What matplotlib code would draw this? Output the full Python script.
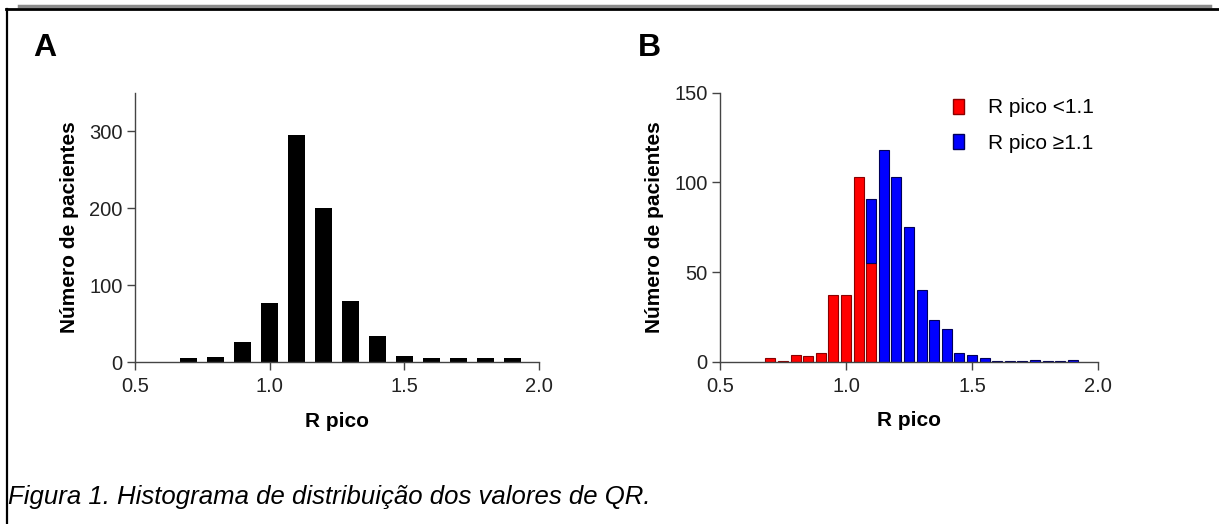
import matplotlib
matplotlib.use("Agg")
import matplotlib.pyplot as plt
from matplotlib.lines import Line2D
from matplotlib.patches import Patch

plt.rcParams['font.family'] = ['Liberation Sans', 'DejaVu Sans']

# -------------------------------
# Data
# -------------------------------

# Panel A: bins of 0.1
a_centers = [0.7, 0.8, 0.9, 1.0, 1.1, 1.2, 1.3, 1.4, 1.5, 1.6, 1.7, 1.8, 1.9]
a_counts = [5, 7, 26, 77, 295, 201, 79, 34, 8, 5, 5, 5, 5]

# Panel B: bins of 0.05, split at R pico 1.1
b_red_centers = [0.70, 0.75, 0.80, 0.85, 0.90, 0.95, 1.00, 1.05, 1.10]
b_red_counts = [2, 0.5, 4, 3, 5, 37, 37, 103, 55]
b_blue_centers = [1.10, 1.15, 1.20, 1.25, 1.30, 1.35, 1.40, 1.45, 1.50, 1.55,
                  1.60, 1.65, 1.70, 1.75, 1.80, 1.85, 1.90]
b_blue_counts = [36, 118, 103, 75, 40, 23, 18, 5, 4, 2,
                 0.5, 0.5, 0.5, 1, 0.5, 0.5, 1]

x_ticks = [0.5, 1.0, 1.5, 2.0]
a_yticks = [0, 100, 200, 300]
b_yticks = [0, 50, 100, 150]
legend_labels = ['R pico <1.1', 'R pico \u22651.1']
caption = 'Figura 1. Histograma de distribuição dos valores de QR.'

# -------------------------------
# Figure
# -------------------------------

W, H = 1219, 524
fig = plt.figure(figsize=(W / 100, H / 100), dpi=100, facecolor='white')


def px_axes(x0, x1, y_top, y_bot):
    return fig.add_axes([x0 / W, 1 - y_bot / H, (x1 - x0) / W, (y_bot - y_top) / H])


def style(ax, yticks, ytop):
    ax.set_xlim(0.5, 2.0)
    ax.set_ylim(0, ytop)
    for s in ['top', 'right']:
        ax.spines[s].set_visible(False)
    for s in ['left', 'bottom']:
        ax.spines[s].set_color('#444444')
        ax.spines[s].set_linewidth(1.0)
    ax.set_xticks(x_ticks)
    ax.set_xticklabels([f'{t:.1f}' for t in x_ticks])
    ax.set_yticks(yticks)
    ax.tick_params(length=6, width=1.0, color='#444444', labelsize=14.5,
                   labelcolor='#222222', pad=3)
    ax.tick_params(axis='x', pad=5)
    ax.set_xlabel('R pico', fontsize=15, fontweight='bold', labelpad=11)
    ax.set_ylabel('Número de pacientes', fontsize=15, fontweight='bold', labelpad=7)
    ax.patch.set_alpha(0)


# Panel A
axA = px_axes(135, 539, 93, 362)
axA.bar(a_centers, a_counts, width=0.063, color='black')
style(axA, a_yticks, 350)
fig.text(33 / W, 1 - 56 / H, 'A', fontsize=23, fontweight='bold')

# Panel B
axB = px_axes(720, 1098, 92.7, 361.7)
axB.bar(b_red_centers, b_red_counts, width=0.04, color='#ff0000',
        edgecolor='#8a0000', linewidth=0.8)
blue_bottom = [b_red_counts[b_red_centers.index(c)] if c in b_red_centers else 0
               for c in b_blue_centers]
axB.bar(b_blue_centers, b_blue_counts, width=0.04, bottom=blue_bottom,
        color='#0000ff', edgecolor='#00005a', linewidth=0.8)
style(axB, b_yticks, 150)
fig.text(638 / W, 1 - 56 / H, 'B', fontsize=23, fontweight='bold')

handles = [Patch(facecolor='#ff0000', edgecolor='#8a0000'),
           Patch(facecolor='#0000ff', edgecolor='#00005a')]
fig.legend(handles, legend_labels, loc='upper left',
           bbox_to_anchor=(943 / W, 1 - 88 / H), bbox_transform=fig.transFigure,
           frameon=False, fontsize=15, handlelength=0.5, handleheight=0.75,
           handletextpad=1.15, labelspacing=0.8, borderpad=0)

# Caption
fig.text(8 / W, 1 - 504 / H, caption, fontsize=18.5, fontstyle='italic')

# Frame lines
fig.add_artist(Line2D([19 / W, 1210 / W], [1 - 5.5 / H] * 2, color='#8c8c8c', lw=2.5,
                      transform=fig.transFigure))
fig.add_artist(Line2D([6 / W, 1], [1 - 8.5 / H] * 2, color='black', lw=2,
                      transform=fig.transFigure))
fig.add_artist(Line2D([6.5 / W] * 2, [0, 1 - 8.5 / H], color='black', lw=1.6,
                      transform=fig.transFigure))

fig.savefig('out.png', dpi=100, facecolor='white')
